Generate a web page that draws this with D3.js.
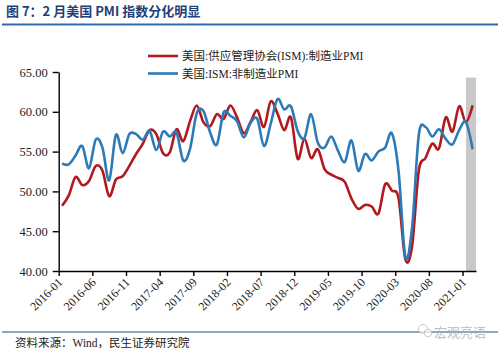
<!DOCTYPE html>
<html><head><meta charset="utf-8">
<script src="https://cdn.jsdelivr.net/npm/d3@7"></script>
<style>body{margin:0;background:#fff}svg{display:block}</style>
</head><body>
<svg id="c" width="500" height="352"></svg>
<script>
// ---- data ----
const startYear = 2016, monthCount = 62; // 2016-01 .. 2021-02
const months = d3.range(monthCount).map(i => {
  const y = startYear + Math.floor(i / 12), m = (i % 12) + 1;
  return y + "-" + (m < 10 ? "0" + m : m);
});
const manufacturing = [
  48.2,49.5,51.8,50.8,51.3,53.2,52.6,49.4,51.5,51.9,53.2,54.7,
  56.0,57.7,57.2,54.8,54.9,57.8,56.3,58.8,60.8,58.7,58.2,59.7,
  59.1,60.8,59.3,57.3,58.7,60.2,58.1,61.3,59.8,57.7,59.3,54.1,
  56.6,54.2,55.3,52.8,52.1,51.7,51.2,49.1,47.8,48.3,48.1,47.2,
  50.9,50.1,49.1,41.5,43.1,52.6,54.2,56.0,55.4,59.3,57.5,60.7,
  58.7,60.8];
const nonManufacturing = [
  53.5,53.4,54.5,55.7,52.9,56.5,55.5,51.4,57.1,54.8,57.2,57.2,
  56.5,57.6,55.2,57.5,56.9,57.4,53.9,55.3,59.8,60.1,57.4,55.9,
  59.9,59.5,58.8,56.8,58.6,59.1,55.7,58.5,61.6,60.3,60.7,57.6,
  56.7,59.7,56.1,55.5,56.9,55.1,53.7,56.4,52.6,54.7,53.9,55.0,
  55.5,57.3,52.5,41.8,45.4,57.1,58.1,56.9,57.8,56.6,55.9,57.7,
  58.7,55.3];
const xTickLabels = ["2016-01","2016-06","2016-11","2017-04","2017-09","2018-02","2018-07","2018-12","2019-05","2019-10","2020-03","2020-08","2021-01"];
const yTicks = [40,45,50,55,60,65];
const seriesNames = ["美国:供应管理协会(ISM):制造业PMI","美国:ISM:非制造业PMI"];
const highlightMonth = "2021-02";
const highlightTop = 64.3;
const titleText = "图 7：2 月美国 PMI 指数分化明显";
const sourceText = "资料来源：Wind，民生证券研究院";
const watermarkText = "宏观亮语";

// ---- layout ----
const svg = d3.select("#c");
const L = 58.7, R = 476, T = 72, B = 271;
const serif = "'Liberation Serif','Times New Roman','Noto Sans CJK SC',serif";
const RED = "#B01A1E", BLUE = "#2C7BB8";

const x = d3.scaleLinear().domain([0, monthCount]).range([L, R]);
const y = d3.scaleLinear().domain([40, 65]).range([B, T]);
const xc = i => x(i + 0.5);

// title
svg.append("text").attr("x", 6).attr("y", 16)
  .attr("font-family", "'Noto Sans CJK SC',sans-serif").attr("font-weight", "bold")
  .attr("font-size", 13).attr("fill", "#1F3F78").text(titleText);
svg.append("line").attr("x1", 2).attr("x2", 498).attr("y1", 24.5).attr("y2", 24.5)
  .attr("stroke", "#2F6AA8").attr("stroke-width", 2);

// highlight bar
const hi = months.indexOf(highlightMonth);
svg.append("rect").attr("x", x(hi) - 3.3).attr("width", x(hi + 1) - x(hi) + 3.3)
  .attr("y", y(highlightTop)).attr("height", y(40) - y(highlightTop))
  .attr("fill", "#C9C9C9");

// axes
const yAxis = d3.axisLeft(y).tickValues(yTicks).tickFormat(d3.format(".2f"))
  .tickSize(6).tickSizeOuter(0).tickPadding(5);
const gy = svg.append("g").attr("transform", `translate(${L},0)`).call(yAxis);
gy.selectAll("text").attr("font-family", serif).attr("font-size", 12.5).attr("fill", "#222");
gy.selectAll("line,path").attr("stroke", "#000").attr("stroke-width", 1.4);

const tickIdx = xTickLabels.map(l => months.indexOf(l));
const xAxis = d3.axisBottom(x).tickValues(tickIdx)
  .tickFormat(i => months[i]).tickSize(5).tickSizeOuter(0);
const gx = svg.append("g").attr("transform", `translate(0,${B})`).call(xAxis);
gx.selectAll("line,path").attr("stroke", "#000").attr("stroke-width", 1.4);
gx.selectAll("text").attr("font-family", serif).attr("font-size", 12).attr("fill", "#222")
  .attr("text-anchor", "end").attr("y", 0).attr("dy", 0)
  .attr("transform", "translate(4,12) rotate(-45)");

// lines
const line = d3.line().x((d, i) => xc(i)).y(d => y(d)).curve(d3.curveCardinal.tension(0));
svg.append("path").datum(manufacturing).attr("d", line)
  .attr("fill", "none").attr("stroke", RED).attr("stroke-width", 2.6);
svg.append("path").datum(nonManufacturing).attr("d", line)
  .attr("fill", "none").attr("stroke", BLUE).attr("stroke-width", 2.6);

// legend
const lg = svg.append("g");
[RED, BLUE].forEach((c, k) => {
  const yy = 56 + k * 17.5;
  lg.append("line").attr("x1", 148).attr("x2", 178).attr("y1", yy).attr("y2", yy)
    .attr("stroke", c).attr("stroke-width", 2.6);
  lg.append("text").attr("x", 182).attr("y", yy + 4).attr("font-family", serif)
    .attr("font-size", 11.5).attr("fill", "#222").text(seriesNames[k]);
});

// footer
svg.append("line").attr("x1", 2).attr("x2", 498).attr("y1", 332).attr("y2", 332)
  .attr("stroke", "#1F4E79").attr("stroke-width", 1);
svg.append("text").attr("x", 15).attr("y", 347).attr("font-family", serif)
  .attr("font-size", 11.5).attr("fill", "#222").text(sourceText);
// watermark
const wm = svg.append("g").attr("opacity", 0.75);
wm.append("circle").attr("cx", 423).attr("cy", 329).attr("r", 4.5).attr("fill", "#fff").attr("stroke", "#bbb");
wm.append("circle").attr("cx", 428).attr("cy", 333).attr("r", 3.8).attr("fill", "#fff").attr("stroke", "#bbb");
wm.append("text").attr("x", 434).attr("y", 337).attr("font-family", "'Noto Sans CJK SC',sans-serif")
  .attr("font-size", 13).attr("fill", "#aaa").text(watermarkText);
</script>
</body></html>
